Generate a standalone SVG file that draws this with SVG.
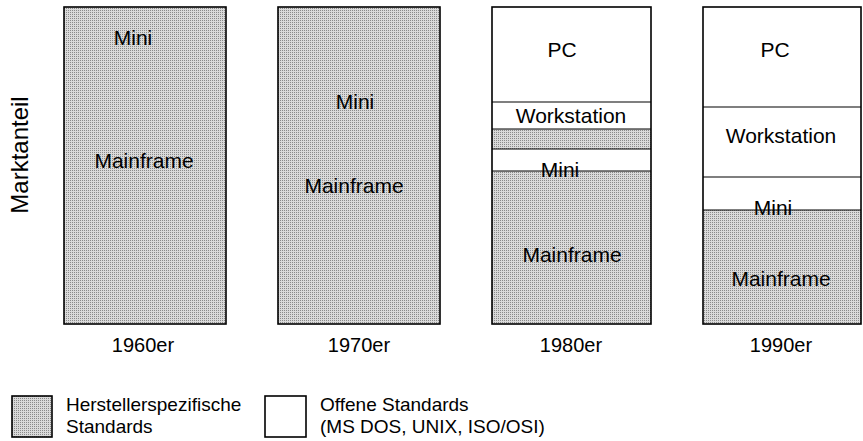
<svg xmlns="http://www.w3.org/2000/svg" width="863" height="441" viewBox="0 0 863 441">
<defs>
<pattern id="dots" width="2" height="2" patternUnits="userSpaceOnUse">
<rect width="2" height="2" fill="#dadada"/>
<rect width="1" height="1" fill="#8a8a8a"/>
</pattern>
</defs>
<style>
text{font-family:"Liberation Sans",Arial,sans-serif;fill:#000}
.lbl{font-size:21px;text-anchor:middle}
.yr{font-size:20px;text-anchor:middle}
.leg{font-size:19px}
.grey{fill:url(#dots)}
.white{fill:#fff}
.frame{fill:none;stroke:#000;stroke-width:1.6}
.div{stroke:#000;stroke-width:1.2}
</style>
<rect width="863" height="441" fill="#fff"/>

<g id="axis-label">
<text transform="translate(28,155) rotate(-90)" style="font-size:24px;text-anchor:middle">Marktanteil</text>
</g>

<g id="bar-1960">
<rect class="grey" x="64" y="7" width="162" height="317"/>
<rect class="frame" x="64" y="7" width="162" height="317"/>
<text class="lbl" x="133" y="45">Mini</text>
<text class="lbl" x="144" y="168">Mainframe</text>
<text class="yr" x="143" y="352">1960er</text>
</g>

<g id="bar-1970">
<rect class="grey" x="278" y="7" width="162" height="317"/>
<rect class="frame" x="278" y="7" width="162" height="317"/>
<text class="lbl" x="355" y="109">Mini</text>
<text class="lbl" x="354" y="193">Mainframe</text>
<text class="yr" x="359" y="352">1970er</text>
</g>

<g id="bar-1980">
<rect class="white" x="492" y="7" width="159" height="95"/>
<rect class="white" x="492" y="102" width="159" height="27"/>
<rect class="grey" x="492" y="129" width="159" height="20"/>
<rect class="white" x="492" y="149" width="159" height="22"/>
<rect class="grey" x="492" y="171" width="159" height="153"/>
<text class="lbl" x="562" y="57">PC</text>
<text class="lbl" x="571" y="123">Workstation</text>
<text class="lbl" x="560" y="177">Mini</text>
<text class="lbl" x="572" y="262">Mainframe</text>
<line class="div" x1="492" y1="102" x2="651" y2="102"/>
<line class="div" x1="492" y1="129" x2="651" y2="129"/>
<line class="div" x1="492" y1="149" x2="651" y2="149"/>
<line class="div" x1="492" y1="171" x2="651" y2="171"/>
<rect class="frame" x="492" y="7" width="159" height="317"/>
<text class="yr" x="571" y="352">1980er</text>
</g>

<g id="bar-1990">
<rect class="white" x="703" y="7" width="158" height="203"/>
<rect class="grey" x="703" y="210" width="158" height="114"/>
<text class="lbl" x="775" y="57">PC</text>
<text class="lbl" x="781" y="143">Workstation</text>
<text class="lbl" x="773" y="215">Mini</text>
<text class="lbl" x="781" y="286">Mainframe</text>
<line class="div" x1="703" y1="107" x2="861" y2="107"/>
<line class="div" x1="703" y1="177" x2="861" y2="177"/>
<line class="div" x1="703" y1="210" x2="861" y2="210"/>
<rect class="frame" x="703" y="7" width="158" height="317"/>
<text class="yr" x="781" y="352">1990er</text>
</g>

<g id="legend-proprietary">
<rect class="grey" x="12" y="396" width="40" height="41"/>
<rect class="frame" x="12" y="396" width="40" height="41"/>
<text class="leg" x="66" y="411">Herstellerspezifische</text>
<text class="leg" x="66" y="433">Standards</text>
</g>

<g id="legend-open">
<rect class="white" x="265" y="396" width="41" height="41"/>
<rect class="frame" x="265" y="396" width="41" height="41"/>
<text class="leg" x="320" y="411">Offene Standards</text>
<text class="leg" x="320" y="433">(MS DOS, UNIX, ISO/OSI)</text>
</g>
</svg>
